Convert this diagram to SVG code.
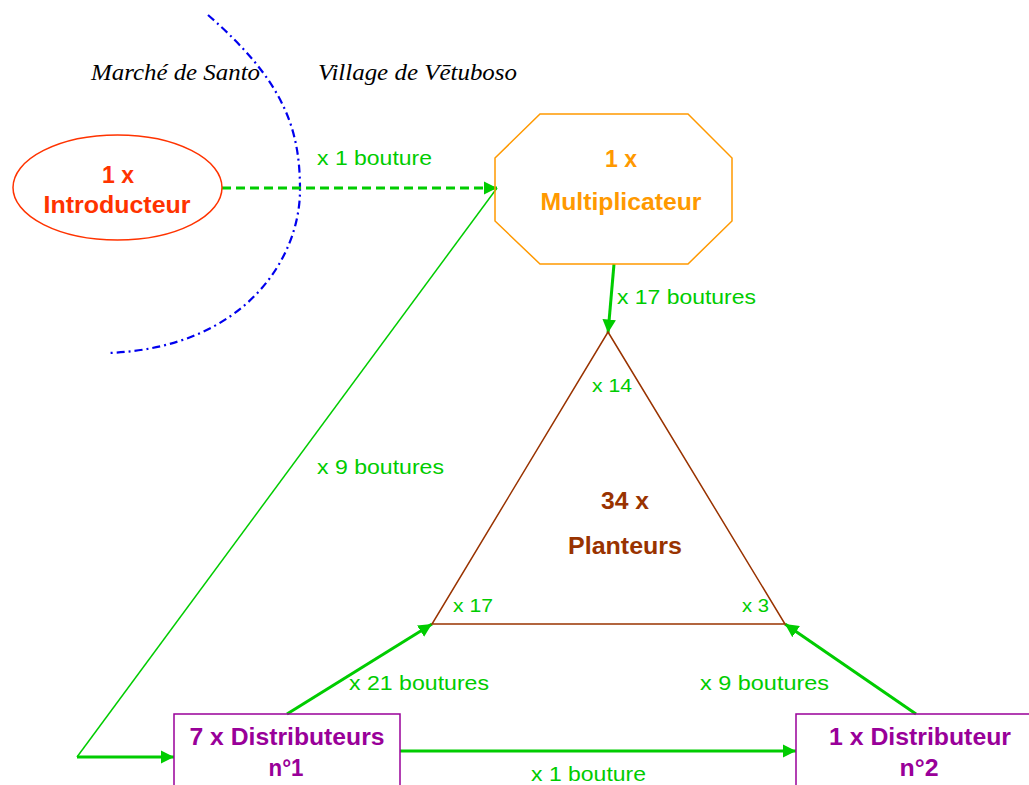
<svg xmlns="http://www.w3.org/2000/svg" width="1029" height="785" viewBox="0 0 1029 785">
<defs>
<style>
.lbl{font-family:"Liberation Sans",Arial,sans-serif;font-size:21px;fill:#00cc00}
.sm{font-family:"Liberation Sans",Arial,sans-serif;font-size:18px;fill:#00cc00}
.it{font-family:"Liberation Serif","Times New Roman",serif;font-style:italic;font-size:24px;fill:#000}
.b{font-family:"Liberation Sans",Arial,sans-serif;font-weight:bold;font-size:23px;text-anchor:middle}
.g{stroke:#00cc00;fill:none}
</style>
<marker id="ahs" viewBox="0 0 10 10" refX="10" refY="5" markerWidth="4.5" markerHeight="4.5" orient="auto" markerUnits="strokeWidth">
<path d="M0,0 L10,5 L0,10 z" fill="#00cc00"/>
</marker>
</defs>
<rect width="1029" height="785" fill="#fff"/>
<g id="boundary">
<path d="M208,15 C285,82 300,130 300,190 C300,258 245,348 108,353" fill="none" stroke="#0000ee" stroke-width="2.2" stroke-dasharray="8,4,2,4"/>
<text class="it" x="91" y="80" textLength="169" lengthAdjust="spacingAndGlyphs">Marché de Santo</text>
<text class="it" x="318" y="80" textLength="199" lengthAdjust="spacingAndGlyphs">Village de Vētuboso</text>
</g>
<g id="connectors">
<line class="g" x1="222" y1="188" x2="497" y2="188" stroke-width="3" stroke-dasharray="9,5" marker-end="url(#ahs)"/>
<polyline class="g" points="77,757 497,188" stroke-width="1.5"/>
<line class="g" x1="77" y1="757" x2="174" y2="757" stroke-width="3" marker-end="url(#ahs)"/>
<line class="g" x1="614" y1="264" x2="608" y2="333" stroke-width="3" marker-end="url(#ahs)"/>
<line class="g" x1="287" y1="714" x2="432" y2="624" stroke-width="3" marker-end="url(#ahs)"/>
<line class="g" x1="916" y1="714" x2="785" y2="624" stroke-width="3" marker-end="url(#ahs)"/>
<line class="g" x1="400" y1="751" x2="796" y2="751" stroke-width="3" marker-end="url(#ahs)"/>
<text class="lbl" x="317" y="165" textLength="115" lengthAdjust="spacingAndGlyphs">x 1 bouture</text>
<text class="lbl" x="617" y="304" textLength="139" lengthAdjust="spacingAndGlyphs">x 17 boutures</text>
<text class="lbl" x="317" y="474" textLength="127" lengthAdjust="spacingAndGlyphs">x 9 boutures</text>
<text class="lbl" x="349" y="690" textLength="140" lengthAdjust="spacingAndGlyphs">x 21 boutures</text>
<text class="lbl" x="700" y="690" textLength="129" lengthAdjust="spacingAndGlyphs">x 9 boutures</text>
<text class="lbl" x="531" y="781" textLength="115" lengthAdjust="spacingAndGlyphs">x 1 bouture</text>
</g>
<g id="introducteur">
<ellipse cx="117.5" cy="187.5" rx="104.5" ry="52.5" fill="none" stroke="#ff3300" stroke-width="1.5"/>
<text class="b" x="118" y="183" fill="#ff3300" textLength="32" lengthAdjust="spacingAndGlyphs">1 x</text>
<text class="b" x="117" y="213" fill="#ff3300" textLength="147" lengthAdjust="spacingAndGlyphs">Introducteur</text>
</g>
<g id="multiplicateur">
<polygon points="495,158 540,114 688,114 732,158 732,221 688,264 540,264 495,221" fill="none" stroke="#ff9900" stroke-width="1.5"/>
<text class="b" x="621" y="167" fill="#ff9900" textLength="32" lengthAdjust="spacingAndGlyphs">1 x</text>
<text class="b" x="621" y="210" fill="#ff9900" textLength="161" lengthAdjust="spacingAndGlyphs">Multiplicateur</text>
</g>
<g id="planteurs">
<polygon points="608,332 785,624 432,624" fill="none" stroke="#993300" stroke-width="1.5"/>
<text class="b" x="625" y="509" fill="#993300" textLength="48" lengthAdjust="spacingAndGlyphs">34 x</text>
<text class="b" x="625" y="554" fill="#993300" textLength="114" lengthAdjust="spacingAndGlyphs">Planteurs</text>
<text class="sm" x="592" y="392" textLength="40" lengthAdjust="spacingAndGlyphs">x 14</text>
<text class="sm" x="453" y="612" textLength="40" lengthAdjust="spacingAndGlyphs">x 17</text>
<text class="sm" x="742" y="612" textLength="27" lengthAdjust="spacingAndGlyphs">x 3</text>
</g>
<g id="distributeurs1">
<rect x="174" y="714" width="226" height="80" fill="none" stroke="#990099" stroke-width="1.5"/>
<text class="b" x="287" y="745" fill="#990099" textLength="195" lengthAdjust="spacingAndGlyphs">7 x Distributeurs</text>
<text class="b" x="286" y="776" fill="#990099" textLength="35" lengthAdjust="spacingAndGlyphs">n°1</text>
</g>
<g id="distributeur2">
<rect x="796" y="714" width="250" height="80" fill="none" stroke="#990099" stroke-width="1.5"/>
<text class="b" x="920" y="745" fill="#990099" textLength="182" lengthAdjust="spacingAndGlyphs">1 x Distributeur</text>
<text class="b" x="919" y="776" fill="#990099" textLength="39" lengthAdjust="spacingAndGlyphs">n°2</text>
</g>
</svg>
